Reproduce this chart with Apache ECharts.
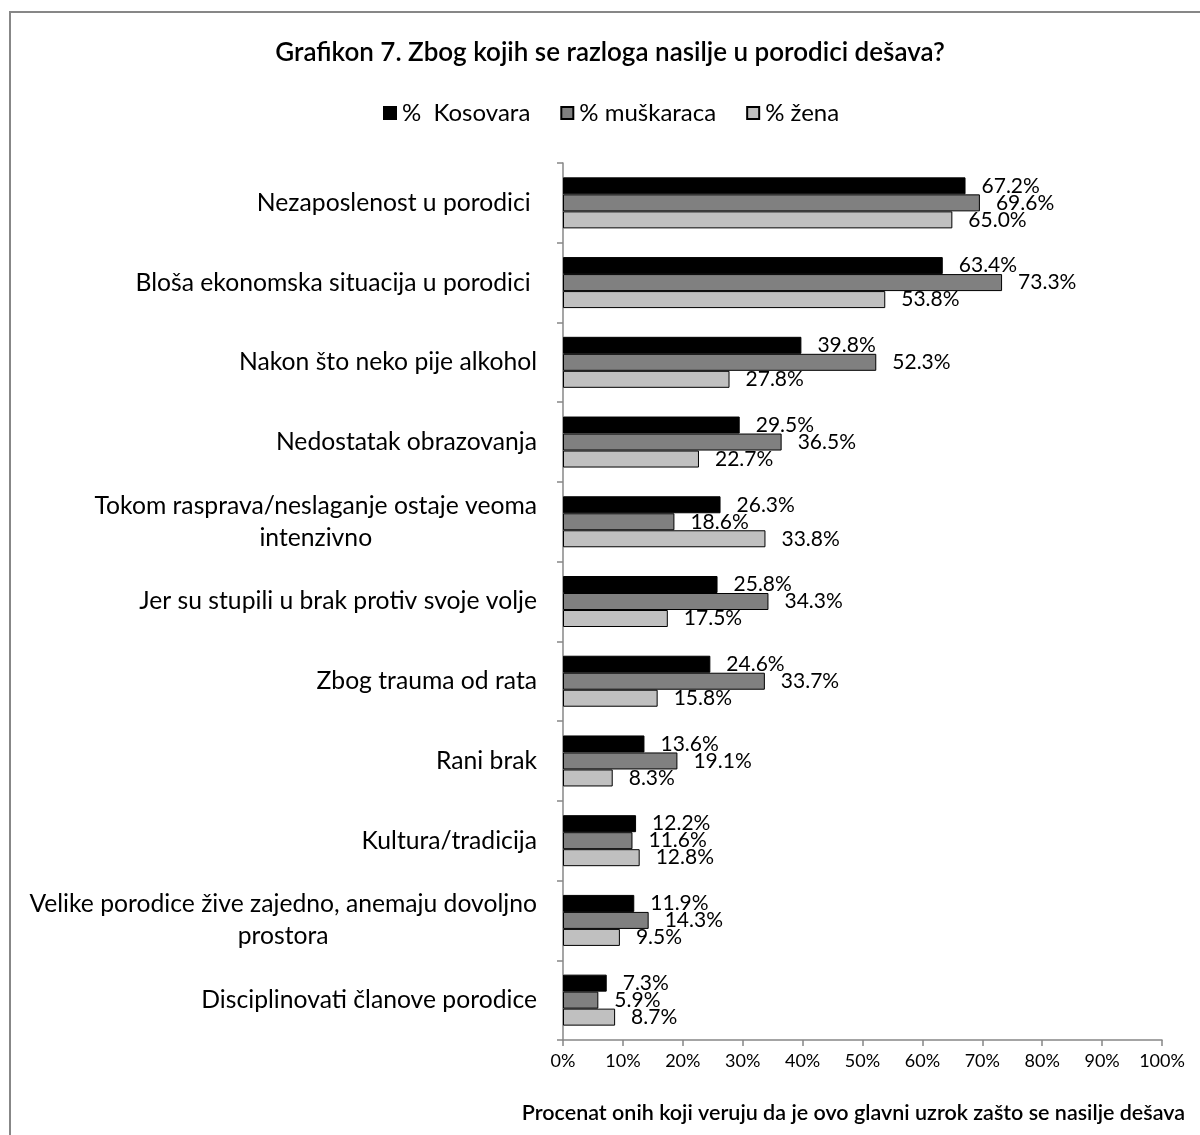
<!DOCTYPE html>
<html>
<head>
<meta charset="utf-8">
<script src="https://cdn.jsdelivr.net/npm/echarts@6/dist/echarts.min.js"></script>
<style>
  html, body { margin: 0; padding: 0; background: #fff; }
  #chart { width: 1200px; height: 1135px; }
</style>
</head>
<body>
<div id="chart"></div>
<script>
// Reasons for domestic violence, share of respondents (%)
const categories = [
  'Nezaposlenost u porodici ',
  'Bloša ekonomska situacija u porodici ',
  'Nakon što neko pije alkohol',
  'Nedostatak obrazovanja',
  'Tokom rasprava/neslaganje ostaje veoma\nintenzivno',
  'Jer su stupili u brak protiv svoje volje',
  'Zbog trauma od rata',
  'Rani brak',
  'Kultura/tradicija',
  'Velike porodice žive zajedno, anemaju dovoljno\nprostora',
  'Disciplinovati članove porodice'
];
const seriesNames = ['%  Kosovara', '% muškaraca', '% žena'];
const kosovo = [67.2, 63.4, 39.8, 29.5, 26.3, 25.8, 24.6, 13.6, 12.2, 11.9, 7.3];
const men    = [69.6, 73.3, 52.3, 36.5, 18.6, 34.3, 33.7, 19.1, 11.6, 14.3, 5.9];
const women  = [65.0, 53.8, 27.8, 22.7, 33.8, 17.5, 15.8, 8.3, 12.8, 9.5, 8.7];
const xTicks = [0, 10, 20, 30, 40, 50, 60, 70, 80, 90, 100];

const FONT = 'Lato, "Open Sans", sans-serif';
const colors = ['#000000', '#808080', '#c0c0c0'];

const chart = echarts.init(document.getElementById('chart'), null, { renderer: 'canvas' });

function barSeries(name, data, color) {
  return {
    name: name,
    type: 'bar',
    data: data,
    barWidth: 17,
    barGap: '0%',
    itemStyle: { color: color, borderColor: '#000', borderWidth: 1 },
    label: {
      show: true,
      position: 'right',
      distance: 16,
      color: '#000',
      fontFamily: FONT,
      fontSize: 21,
      formatter: p => p.value.toFixed(1) + '%'
    }
  };
}

chart.setOption({
  animation: false,
  backgroundColor: '#fff',
  textStyle: { fontFamily: FONT },
  graphic: [{
    type: 'rect',
    z: -10,
    shape: { x: 10, y: 12, width: 1300, height: 1300 },
    style: { fill: 'none', stroke: '#878787', lineWidth: 2 }
  }],
  title: [{
    text: 'Grafikon 7. Zbog kojih se razloga nasilje u porodici dešava?',
    left: 605,
    textAlign: 'center',
    top: 35,
    textStyle: { fontFamily: FONT, fontSize: 26, fontWeight: 600, color: '#000' }
  }, {
    text: 'Procenat onih koji veruju da je ovo glavni uzrok zašto se nasilje dešava',
    right: 10,
    top: 1097,
    textStyle: { fontFamily: FONT, fontSize: 21.5, fontWeight: 600, color: '#000' }
  }],
  legend: {
    data: seriesNames,
    top: 96,
    left: 378,
    itemWidth: 12,
    itemHeight: 12,
    itemGap: 30,
    icon: 'rect',
    textStyle: { fontFamily: FONT, fontSize: 24, color: '#000', padding: [0, 0, 0, 1] }
  },
  grid: { left: 563, right: 38, top: 163, bottom: 95, containLabel: false },
  xAxis: {
    type: 'value',
    min: 0,
    max: 100,
    interval: 10,
    splitLine: { show: false },
    axisLine: { show: true, lineStyle: { color: '#878787', width: 1.5 } },
    axisTick: { show: true, length: 6, lineStyle: { color: '#878787', width: 1.5 } },
    axisLabel: {
      margin: 12,
      fontFamily: FONT,
      fontSize: 18,
      color: '#000',
      formatter: v => (xTicks.includes(v) ? v + '%' : '')
    }
  },
  yAxis: {
    type: 'category',
    inverse: true,
    data: categories,
    axisLine: { show: true, lineStyle: { color: '#878787', width: 1.5 } },
    axisTick: { show: true, length: 6, lineStyle: { color: '#878787', width: 1.5 } },
    axisLabel: {
      margin: 26,
      fontFamily: FONT,
      fontSize: 24.7,
      color: '#000',
      lineHeight: 32,
      formatter: v => v.includes('\n') ? v.split('\n').map(s => '{c|' + s + '}').join('\n') : v,
      rich: { c: { align: 'center', fontFamily: FONT, fontSize: 24.7, lineHeight: 32, color: '#000' } }
    }
  },
  series: [
    barSeries(seriesNames[0], kosovo, colors[0]),
    barSeries(seriesNames[1], men, colors[1]),
    barSeries(seriesNames[2], women, colors[2])
  ]
});
</script>
</body>
</html>
